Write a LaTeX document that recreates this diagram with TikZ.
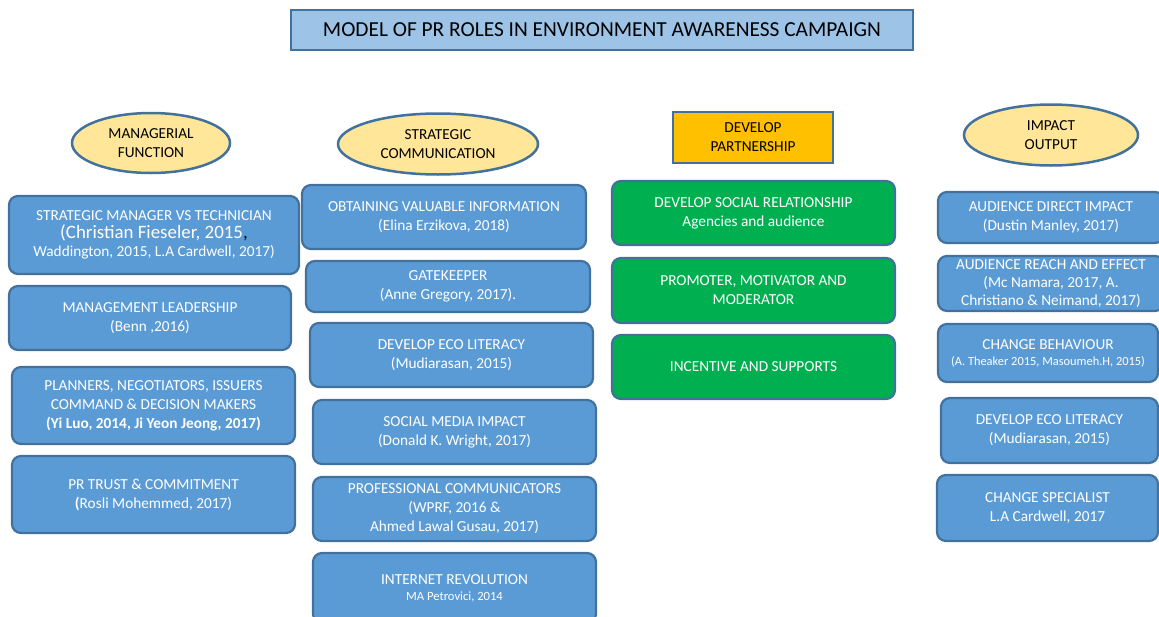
\documentclass[tikz,border=0pt]{standalone}
\usepackage{fontspec}
\setmainfont{Carlito}
\usetikzlibrary{shapes.geometric}
\definecolor{boxblue}{HTML}{5B9BD5}
\definecolor{edgeblue}{HTML}{41719C}
\definecolor{titleblue}{HTML}{9DC3E6}
\definecolor{ellyellow}{HTML}{FFE699}
\definecolor{orangebox}{HTML}{FFC000}
\definecolor{greenfill}{HTML}{00B050}
\begin{document}
\begin{tikzpicture}[x=1pt,y=-1pt,
  bluebox/.style={draw=edgeblue, line width=2.2pt, fill=boxblue, rounded corners=9pt,
    text=white, align=center, font=\fontsize{15.3}{19}\selectfont, inner sep=0pt},
  greenbox/.style={bluebox, fill=greenfill},
  oval/.style={ellipse, draw=edgeblue, line width=2.5pt, fill=ellyellow, align=center,
    font=\fontsize{15.3}{19}\selectfont, inner sep=0pt, text=black},
  titlebox/.style={draw=edgeblue, line width=2.2pt, fill=titleblue, inner sep=0pt,
    font=\fontsize{21.4}{24}\selectfont, text=black},
  orangerect/.style={draw=edgeblue, line width=2.2pt, fill=orangebox, inner sep=0pt,
    align=center, font=\fontsize{15.3}{19}\selectfont, text=black}]
\useasboundingbox (0,0) rectangle (1159,616);
\clip (0,0) rectangle (1159,616);

\node[titlebox, minimum width=622pt, minimum height=40pt] (title) at (602,30)
  {MODEL OF PR ROLES IN ENVIRONMENT AWARENESS CAMPAIGN};

% headers
\node[oval, minimum width=158pt, minimum height=60pt] (e1) at (151,143) {MANAGERIAL\\FUNCTION};
\node[oval, minimum width=200pt, minimum height=61pt] (e2) at (438,144) {STRATEGIC\\COMMUNICATION};
\node[orangerect, minimum width=160pt, minimum height=51pt] (dp) at (753,137.5) {DEVELOP\\PARTNERSHIP};
\node[oval, minimum width=174pt, minimum height=61pt] (e4) at (1051,135) {IMPACT\\OUTPUT};

% left column
\node[bluebox, minimum width=290pt, minimum height=78pt] (l1) at (154,235)
  {STRATEGIC MANAGER VS TECHNICIAN\\[-1pt]
   {\fontsize{18.9}{19}\selectfont (Christian Fieseler, 2015\textcolor{black}{,}}\\[-1pt]
   Waddington, 2015, L.A Cardwell, 2017)};
\node[bluebox, minimum width=282pt, minimum height=64pt] (l2) at (150,318)
  {MANAGEMENT LEADERSHIP\\(Benn ,2016)};
\node[bluebox, minimum width=283pt, minimum height=77pt] (l3) at (153.5,405.5)
  {PLANNERS, NEGOTIATORS, ISSUERS\\COMMAND \& DECISION MAKERS\\\textbf{(Yi Luo, 2014, Ji Yeon Jeong, 2017)}};
\node[bluebox, minimum width=283pt, minimum height=77pt] (l4) at (153.5,494.5)
  {PR TRUST \& COMMITMENT\\\textbf{(}Rosli Mohemmed, 2017)};

% middle column
\node[bluebox, minimum width=284pt, minimum height=64pt] (m1) at (444,217)
  {OBTAINING VALUABLE INFORMATION\\(Elina Erzikova, 2018)};
\node[bluebox, minimum width=284pt, minimum height=51pt] (m2) at (448,286.5)
  {GATEKEEPER\\(Anne Gregory, 2017).};
\node[bluebox, minimum width=283pt, minimum height=64pt] (m3) at (451.5,355)
  {DEVELOP ECO LITERACY\\(Mudiarasan, 2015)};
\node[bluebox, minimum width=283pt, minimum height=64pt] (m4) at (454.5,432)
  {SOCIAL MEDIA IMPACT\\(Donald K. Wright, 2017)};
\node[bluebox, minimum width=283pt, minimum height=64pt] (m5) at (454.5,509)
  {PROFESSIONAL COMMUNICATORS\\(WPRF, 2016 \&\\Ahmed Lawal Gusau, 2017)};
\node[bluebox, minimum width=283pt, minimum height=70pt] (m6) at (454.5,588)
  {INTERNET REVOLUTION\\[-3pt]{\fontsize{12.6}{14}\selectfont MA Petrovici, 2014}};

% green column
\node[greenbox, minimum width=283pt, minimum height=64pt] (g1) at (753.5,213)
  {DEVELOP SOCIAL RELATIONSHIP\\Agencies and audience};
\node[greenbox, minimum width=283pt, minimum height=65pt] (g2) at (753.5,290.5)
  {PROMOTER, MOTIVATOR AND\\MODERATOR};
\node[greenbox, minimum width=283pt, minimum height=64pt] (g3) at (753.5,367)
  {INCENTIVE AND SUPPORTS};

% right column
\node[bluebox, minimum width=226pt, minimum height=51pt] (r1) at (1051,217.5)
  {AUDIENCE DIRECT IMPACT\\(Dustin Manley, 2017)};
\node[bluebox, minimum width=226pt, minimum height=55pt] (r2) at (1051,283.5)
  {AUDIENCE REACH AND EFFECT\\[-1pt](Mc Namara, 2017, A.\\[-1pt]Christiano \& Neimand, 2017)};
\node[bluebox, minimum width=220pt, minimum height=58pt] (r3) at (1048,353)
  {CHANGE BEHAVIOUR\\[-3pt]{\fontsize{12.4}{14}\selectfont (A. Theaker 2015, Masoumeh.H, 2015)}};
\node[bluebox, minimum width=217pt, minimum height=65pt] (r4) at (1049.5,430.5)
  {DEVELOP ECO LITERACY\\(Mudiarasan, 2015)};
\node[bluebox, minimum width=221pt, minimum height=66pt] (r5) at (1047.5,508)
  {CHANGE SPECIALIST\\L.A Cardwell, 2017};
\end{tikzpicture}
\end{document}
